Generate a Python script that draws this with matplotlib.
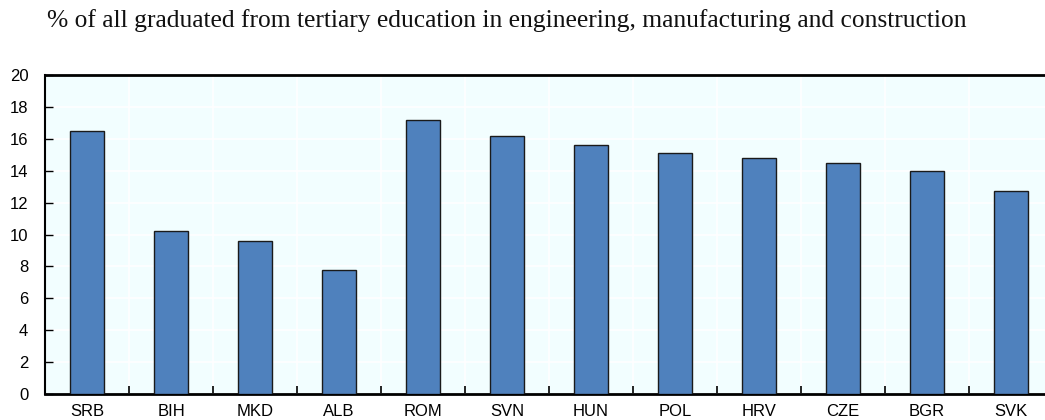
import numpy as np
import matplotlib.pyplot as plt

countries = ['SRB', 'BIH', 'MKD', 'ALB', 'ROM', 'SVN', 'HUN', 'POL', 'HRV', 'CZE', 'BGR', 'SVK']
share = [16.5, 10.2, 9.6, 7.8, 17.2, 16.2, 15.6, 15.1, 14.8, 14.5, 14.0, 12.7]
yticks = np.arange(0, 21, 2)

fig = plt.figure(figsize=(10.45, 4.2), dpi=100)
ax = fig.add_axes([0.0431, 0.0619, 0.9646, 0.7595])
ax.set_facecolor('#F2FEFF')

x = np.arange(len(countries))
ax.bar(x, share, width=0.4, color='#4F81BD', edgecolor='#1a1a1a', linewidth=1.0, zorder=3)

ax.set_xlim(-0.5, len(countries) - 0.5)
ax.set_ylim(0, 20)
ax.set_yticks(yticks)
ax.set_xticks(x)
ax.set_xticklabels(countries)
ax.set_xticks(x[:-1] + 0.5, minor=True)

ax.tick_params(axis='x', which='major', length=0, pad=7, labelsize=12)
ax.tick_params(axis='x', which='minor', direction='in', length=6, width=1.2, color='black')
ax.tick_params(axis='y', direction='in', length=6, width=1.0, pad=12, labelsize=12)
for lab in ax.get_xticklabels() + ax.get_yticklabels():
    lab.set_fontfamily('Liberation Sans')

ax.grid(axis='y', color='white', linewidth=1.2, zorder=0)
ax.grid(axis='x', which='minor', color='white', linewidth=1.2, zorder=0)
ax.set_axisbelow(True)

ax.spines['top'].set_linewidth(2)
ax.spines['bottom'].set_linewidth(2)
ax.spines['left'].set_linewidth(1.5)
ax.spines['right'].set_visible(False)

fig.text(0.045, 0.952, '% of all graduated from tertiary education in engineering, manufacturing and construction',
         ha='left', va='center', fontsize=18.4, fontfamily='Liberation Serif', color='#111111')

fig.savefig('out.png', dpi=100)
